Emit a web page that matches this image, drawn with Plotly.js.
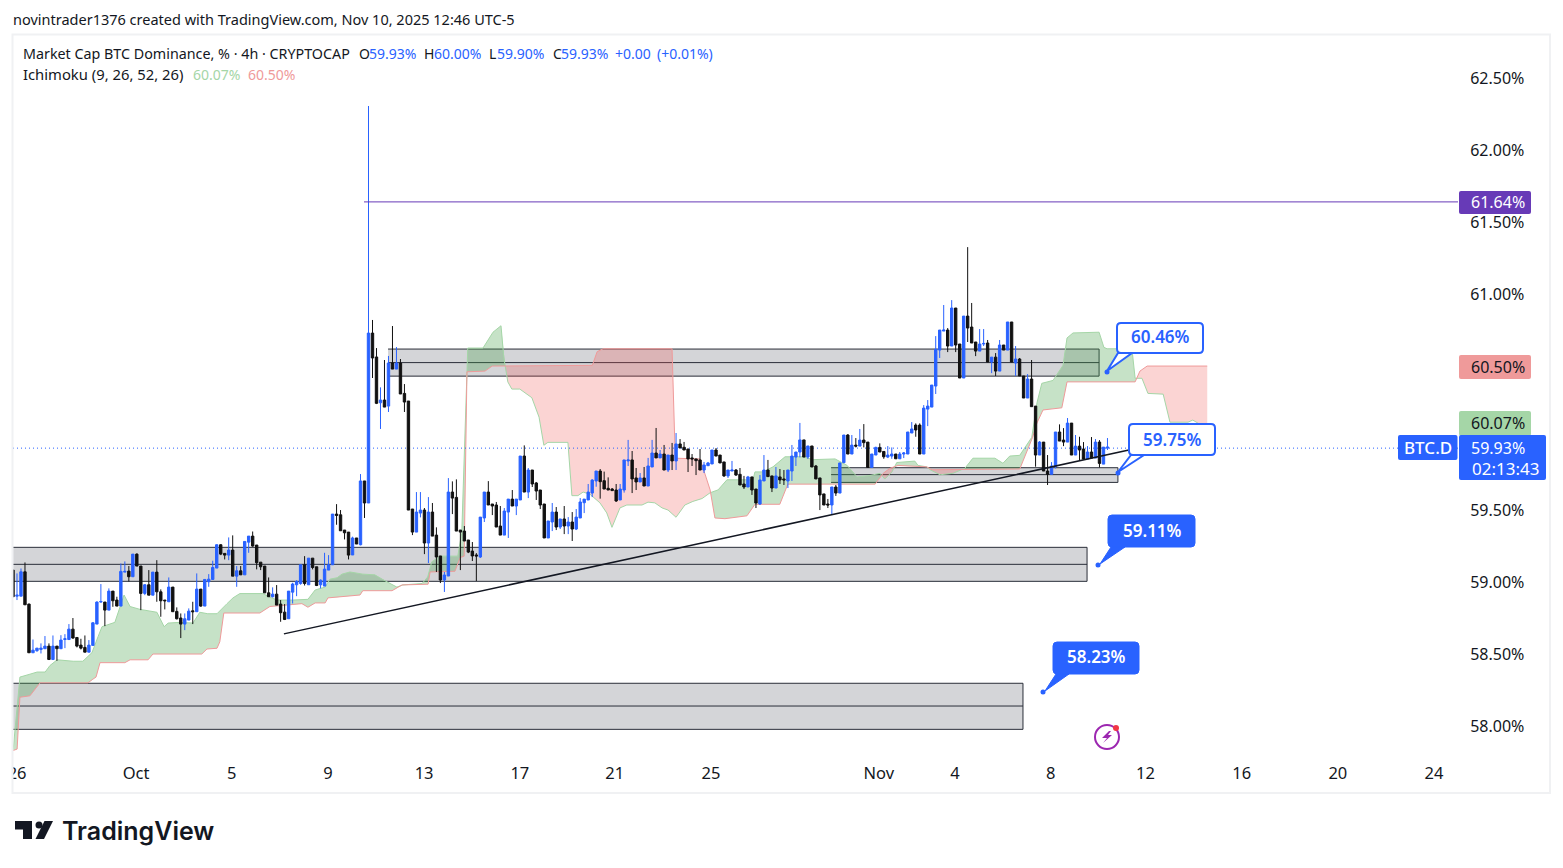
<!DOCTYPE html>
<html><head><meta charset="utf-8">
<script src="https://cdn.plot.ly/plotly-3.0.1.min.js"></script>
<style>html,body{margin:0;padding:0;background:#fff;overflow:hidden}#c{width:1563px;height:868px}</style>
</head><body><div id="c"></div>
<script>
// ---- candles: 4h bars, percent dominance
const opens=[59.083,58.902,58.902,59.071,58.847,58.509,58.523,58.532,58.537,58.555,
58.462,58.555,58.537,58.601,58.601,58.673,58.615,58.562,58.546,58.513,
58.560,58.708,58.861,58.861,58.805,58.937,58.875,58.833,59.069,59.076,
59.037,59.194,59.111,58.921,58.981,58.909,59.069,58.932,58.875,58.863,
58.965,58.796,58.750,58.708,58.736,58.800,58.794,58.951,58.833,59.002,
59.018,59.097,59.259,59.199,59.187,59.222,59.041,59.078,59.050,59.277,
59.319,59.257,59.138,59.111,58.925,58.898,58.916,58.847,58.791,58.745,
58.930,58.981,58.990,59.120,58.981,59.166,59.106,58.981,58.972,59.083,
59.120,59.472,59.467,59.361,59.347,
59.188,59.306,59.259,59.702,59.549,60.729,60.563,60.245,60.264,60.222,
60.521,60.479,60.521,60.310,60.257,59.507,59.347,59.479,59.500,59.271,
59.486,59.326,59.181,59.014,59.042,59.625,59.588,59.361,59.354,59.292,
59.215,59.188,59.174,59.445,59.625,59.542,59.535,59.389,59.326,59.486,
59.576,59.528,59.570,59.875,59.625,59.778,59.688,59.639,59.542,59.306,
59.417,59.486,59.382,59.438,59.389,59.417,59.368,59.445,59.551,59.570,
59.618,
59.702,59.771,59.704,59.651,59.646,59.639,59.570,59.639,59.841,59.848,
59.723,59.695,59.723,59.667,59.799,59.896,59.862,59.889,59.778,59.882,
59.841,59.959,59.936,59.924,59.862,59.855,59.848,59.778,59.808,59.820,
59.917,59.882,59.834,59.737,59.771,59.778,59.748,59.681,59.660,59.730,
59.646,59.542,59.702,59.778,59.737,59.653,59.730,59.716,59.702,59.771,
59.868,59.903,59.987,59.868,59.945,59.806,59.723,59.612,59.542,59.535,
59.660,59.618,
59.829,60.021,59.889,59.951,59.944,59.986,59.972,59.796,59.882,59.935,
59.907,59.868,59.875,59.889,59.856,59.889,59.889,60.035,60.090,60.090,
59.889,60.201,60.215,60.361,60.611,60.743,60.750,60.639,60.903,60.653,
60.417,60.847,60.771,60.667,60.604,60.653,60.660,60.528,60.562,60.465,
60.646,60.611,60.806,60.521,60.549,60.431,60.278,60.410,60.222,59.882,
59.972,59.771,59.748,59.801,60.042,59.986,59.972,60.104,59.882,59.944,
59.924,59.854,59.903,59.861,59.972,59.819,59.930];
const highs=[59.083,59.060,59.094,59.136,58.850,58.601,58.541,58.574,58.625,58.574,
58.629,58.555,58.631,58.638,58.708,58.750,58.615,58.606,58.629,58.597,
58.722,58.866,58.986,58.861,58.956,58.937,58.898,59.129,59.143,59.111,
59.194,59.199,59.111,58.986,59.083,59.069,59.152,58.949,58.875,59.032,
58.965,58.824,58.782,58.782,58.817,58.863,59.060,58.951,59.018,59.055,
59.148,59.263,59.263,59.199,59.310,59.324,59.111,59.111,59.282,59.319,
59.351,59.257,59.138,59.111,59.032,58.963,58.979,58.875,58.847,58.937,
58.995,59.013,59.120,59.180,59.166,59.166,59.106,59.018,59.203,59.187,
59.472,59.541,59.500,59.361,59.347,
59.315,59.306,59.750,59.702,62.306,60.820,60.625,60.352,60.542,60.570,
60.778,60.632,60.549,60.375,60.257,59.507,59.625,59.625,59.514,59.590,
59.549,59.380,59.181,59.070,59.722,59.699,59.713,59.361,59.389,59.292,
59.278,59.201,59.451,59.625,59.701,59.542,59.556,59.528,59.514,59.576,
59.639,59.576,59.875,59.949,59.792,59.778,59.695,59.639,59.542,59.424,
59.549,59.521,59.438,59.528,59.451,59.486,59.507,59.583,59.576,59.681,
59.715,
59.771,59.785,59.767,59.727,59.653,59.681,59.681,59.848,59.987,59.910,
59.792,59.757,59.799,59.862,59.987,60.070,59.917,59.952,59.882,59.966,
60.035,59.993,59.973,59.924,59.889,59.855,59.924,59.834,59.834,59.917,
59.931,59.882,59.834,59.778,59.841,59.785,59.792,59.737,59.737,59.730,
59.646,59.743,59.882,59.848,59.737,59.799,59.785,59.778,59.778,59.952,
59.903,60.105,59.987,59.945,59.945,59.813,59.723,59.612,59.577,59.660,
59.674,59.827,
60.021,60.028,60.021,60.000,60.063,60.097,59.972,59.889,59.940,59.963,
59.907,59.944,59.935,59.889,59.903,59.903,60.042,60.111,60.102,60.102,
60.229,60.264,60.368,60.708,60.750,60.924,60.764,60.958,60.903,60.653,
60.847,61.326,60.938,60.667,60.757,60.757,60.681,60.562,60.590,60.681,
60.646,60.806,60.806,60.639,60.556,60.431,60.444,60.542,60.222,59.979,
59.972,59.882,59.833,60.042,60.095,60.069,60.139,60.104,60.021,60.009,
59.972,59.944,60.007,59.993,59.986,59.937,60.000];
const lows=[58.898,58.875,58.902,58.842,58.509,58.509,58.516,58.504,58.537,58.462,
58.462,58.453,58.537,58.541,58.597,58.606,58.546,58.532,58.513,58.513,
58.560,58.708,58.856,58.694,58.805,58.828,58.833,58.833,59.069,59.004,
59.037,59.111,58.805,58.909,58.909,58.909,58.863,58.759,58.810,58.863,
58.794,58.740,58.611,58.666,58.736,58.708,58.794,58.828,58.833,58.967,
59.018,59.097,59.187,59.157,59.152,59.041,58.967,59.050,59.050,59.203,
59.245,59.088,59.083,58.925,58.898,58.893,58.840,58.724,58.736,58.745,
58.851,58.902,58.981,58.976,58.981,59.088,58.972,58.956,58.972,59.083,
59.120,59.398,59.356,59.296,59.157,
59.188,59.264,59.255,59.445,59.549,60.417,60.236,60.063,60.215,60.181,
60.479,60.479,60.306,60.181,59.500,59.326,59.347,59.449,59.194,59.132,
59.319,59.070,58.993,58.931,59.042,59.472,59.354,59.083,59.285,59.201,
59.146,59.007,59.167,59.417,59.535,59.465,59.382,59.326,59.326,59.306,
59.528,59.465,59.570,59.625,59.583,59.660,59.570,59.507,59.306,59.306,
59.354,59.361,59.368,59.333,59.333,59.285,59.361,59.445,59.479,59.570,
59.590,
59.662,59.579,59.646,59.639,59.635,59.556,59.570,59.621,59.806,59.618,
59.639,59.695,59.667,59.667,59.799,59.862,59.862,59.778,59.764,59.778,
59.778,59.931,59.917,59.764,59.806,59.743,59.778,59.757,59.806,59.820,
59.875,59.827,59.730,59.723,59.771,59.737,59.674,59.646,59.660,59.605,
59.514,59.535,59.702,59.732,59.625,59.653,59.681,59.674,59.653,59.702,
59.806,59.866,59.868,59.855,59.799,59.716,59.500,59.535,59.514,59.466,
59.598,59.618,
59.829,59.889,59.889,59.935,59.944,59.935,59.796,59.796,59.882,59.903,
59.856,59.861,59.856,59.856,59.856,59.861,59.889,60.035,60.009,59.889,
59.889,60.083,60.215,60.306,60.556,60.743,60.597,60.639,60.597,60.417,
60.417,60.667,60.660,60.569,60.604,60.639,60.528,60.451,60.431,60.465,
60.611,60.611,60.528,60.431,60.431,60.278,60.278,60.218,59.801,59.882,
59.771,59.674,59.748,59.789,59.979,59.944,59.972,59.882,59.882,59.847,
59.854,59.854,59.861,59.861,59.796,59.819,59.917];
const closes=[58.898,58.909,59.071,58.842,58.509,58.527,58.541,58.541,58.555,58.462,
58.555,58.537,58.597,58.606,58.673,58.611,58.555,58.541,58.513,58.562,
58.717,58.861,58.865,58.805,58.937,58.870,58.833,59.074,59.074,59.037,
59.194,59.111,58.921,58.981,58.909,59.069,58.932,58.870,58.870,58.965,
58.794,58.745,58.708,58.745,58.798,58.794,58.951,58.833,59.018,59.020,
59.101,59.259,59.194,59.187,59.222,59.041,59.078,59.050,59.282,59.319,
59.250,59.134,59.106,58.925,58.898,58.916,58.840,58.787,58.740,58.937,
58.986,59.004,59.120,58.990,59.166,59.101,58.976,59.013,59.090,59.120,
59.472,59.463,59.356,59.342,59.187,
59.306,59.264,59.702,59.549,60.729,60.556,60.241,60.264,60.215,60.521,
60.479,60.521,60.306,60.250,59.500,59.347,59.486,59.500,59.271,59.486,
59.319,59.174,59.014,59.049,59.625,59.583,59.354,59.347,59.285,59.208,
59.181,59.181,59.451,59.625,59.535,59.528,59.382,59.326,59.493,59.576,
59.528,59.576,59.875,59.625,59.778,59.681,59.632,59.535,59.306,59.424,
59.486,59.382,59.438,59.389,59.417,59.368,59.451,59.556,59.576,59.625,
59.708,
59.771,59.697,59.646,59.639,59.635,59.563,59.646,59.848,59.848,59.716,
59.695,59.723,59.667,59.806,59.896,59.862,59.889,59.778,59.882,59.841,
59.959,59.931,59.917,59.855,59.855,59.843,59.778,59.813,59.827,59.917,
59.875,59.827,59.737,59.778,59.778,59.743,59.674,59.660,59.730,59.639,
59.549,59.709,59.778,59.732,59.653,59.737,59.709,59.709,59.778,59.875,
59.903,59.987,59.868,59.945,59.799,59.716,59.605,59.535,59.535,59.660,
59.618,59.827,
60.021,59.889,59.951,59.944,59.986,59.968,59.796,59.889,59.935,59.903,
59.870,59.882,59.889,59.856,59.889,59.896,60.042,60.063,60.056,59.889,
60.208,60.222,60.368,60.616,60.750,60.750,60.639,60.903,60.646,60.417,
60.847,60.764,60.660,60.604,60.653,60.657,60.528,60.562,60.465,60.646,
60.611,60.806,60.528,60.549,60.431,60.278,60.410,60.218,59.882,59.972,
59.771,59.748,59.806,60.042,59.979,59.972,60.104,59.882,59.944,59.917,
59.854,59.903,59.861,59.972,59.824,59.937,59.937];
const firstBar=-0.125, barStep=0.99715;

// ---- Ichimoku leading spans (bar number, percent)
const spanAX=[-0.1,1.6,4.1,5.9,7.9,9.1,10.9,14.9,17.3,19.6,21.1,22.1,25.3,26.1,27.6,29.1,31.6,35.8,37.6,38.6,41.6,44.8,46.5,48.5,50.8,53.3,54.8,56.5,62.3,64,65.8,69.8,73.5,75.3,77.8,79,80.8,82,84,87.2,90.2,92,94,95.7,97.2,102,103.4,104.4,106.5,110.9,111.9,113.4,117.2,119.7,121.7,122.4,123.4,124.4,126.4,129.4,131.2,132.4,133.4,138.4,139.4,140.9,142.2,143.9,146.4,148.1,149.4,151.4,153.1,156.9,158.4,160.1,161.9,163.4,165.4,167.6,169.6,171.9,173.9,175.9,178.1,184.6,185.1,187.1,189.6,192.6,197.1,199.6,205.1,208.1,210.6,213.8,216.3,217.5,219.3,220.5,225,225.8,228,228.8,231.3,234.5,237.5,239.5,245,247,248.7,251.2,254.2,255.5,256.7,259.5,262,263,264.5,271,272.2,273,279.2,280,281.7,283.2,287,288.7,293.2,294.4,297.7];
const spanA=[57.83,58.34,58.36,58.375,58.375,58.42,58.46,58.45,58.45,58.51,58.62,58.69,58.72,58.785,58.91,58.83,58.81,58.79,58.69,58.715,58.72,58.715,58.79,58.78,58.78,58.85,58.89,58.92,58.92,58.895,58.875,58.875,58.88,58.945,58.965,59.02,59.03,59.055,59.07,59.055,59.05,59.02,58.99,58.965,58.98,58.99,59.035,59.14,59.18,59.18,59.34,60.625,60.625,60.735,60.78,60.56,60.39,60.34,60.34,60.28,60.145,59.95,59.97,59.97,59.60,59.60,59.625,59.61,59.55,59.48,59.38,59.515,59.535,59.535,59.555,59.55,59.515,59.50,59.45,59.535,59.56,59.58,59.62,59.64,59.71,59.71,59.765,59.765,59.80,59.87,59.87,59.85,59.855,59.81,59.73,59.74,59.755,59.715,59.765,59.83,59.84,59.81,59.80,59.78,59.745,59.755,59.79,59.86,59.86,59.825,59.875,59.88,60.005,60.245,60.38,60.40,60.505,60.695,60.73,60.735,60.63,60.62,60.62,60.415,60.415,60.31,60.305,60.11,60.11,60.125,60.07];
const spanBX=[-0.1,0.9,1.6,4.1,6.6,18.6,19.8,20.6,21.6,27.8,29.1,33.6,34.8,47,48.3,50.8,51.5,52.5,61.5,64,72,73.5,75.3,77.8,78.5,83.5,86.5,87.2,94.5,97,103.5,104,110.2,111.5,112.5,113.2,117.7,119.5,144.5,145.7,147.2,164.4,165.2,171.4,173.9,175.1,177.6,183.1,185.1,191.3,193.3,215.1,217.1,218.8,220.8,228,229.3,251.2,254.4,255.5,257,261.7,263,280,281.2,283,298];
const spanB=[57.83,57.84,58.20,58.21,58.30,58.30,58.325,58.34,58.44,58.44,58.46,58.46,58.50,58.50,58.535,58.54,58.585,58.785,58.785,58.83,58.85,58.825,58.855,58.855,58.89,58.90,58.91,58.94,58.94,58.98,58.985,59.07,59.075,59.17,59.18,60.46,60.465,60.50,60.505,60.60,60.62,60.62,59.86,59.855,59.64,59.445,59.44,59.46,59.54,59.54,59.68,59.68,59.755,59.79,59.81,59.80,59.78,59.785,60.005,60.105,60.195,60.21,60.39,60.39,60.465,60.50,60.50];

// ---- drawings
const zoneStart=[93.5,204.1,-0.2,-0.2];
const zoneEnd=[271.0,275.7,268.0,252.0];
const zoneTop=[60.618,59.794,59.241,58.297];
const zoneMid=[60.524,59.746,59.123,58.139];
const zoneBottom=[60.43,59.692,59.005,57.977];
const trendX=[67.5,279];
const trendY=[58.64,59.92];
const levelX=[87.5,360.6];
const levelY=[61.64,61.64];
const lastPrice=59.93;

// ---- axis labels (60.00% and 60.50% sit under the value tags in the reference)
const yTickVals=[58,58.5,59,59.5,61,61.5,62,62.5];
const yTickText=['58.00%','58.50%','59.00%','59.50%','61.00%','61.50%','62.00%','62.50%'];
const xTickVals=[0.9,30.6,54.5,78.5,102.5,126.4,150.1,174.1,216,235,258.9,282.6,306.6,330.6,354.6];
const xTickText=['26','Oct','5','9','13','17','21','25','Nov','4','8','12','16','20','24'];

const FONT='"Noto Sans",sans-serif';
const BLUE='#2962ff', INK='#131722', GREEN='#a5d6a7', RED='#ef9a9a';
const L=13,R=1458,T=34,B=757;
const X=p=>(p-L)/(R-L), Y=p=>(B-p)/(B-T);
const xRange=[-0.125,360.6], yRange=[57.785,62.806];

// cloud fills between the two spans
function at(xs,ys,x){ if(x<=xs[0])return ys[0]; for(let i=1;i<xs.length;i++){ if(x<=xs[i]){const t=(x-xs[i-1])/(xs[i]-xs[i-1]);return ys[i-1]+t*(ys[i]-ys[i-1]);}} return ys[ys.length-1]; }
const grid=[...new Set(spanAX.concat(spanBX))].sort((a,b)=>a-b);
const segs=[]; let cur=null;
function pushPt(x,a,b){ if(cur){cur.x.push(x);cur.a.push(a);cur.b.push(b);} }
for(let i=0;i<grid.length;i++){
  const x=grid[i],a=at(spanAX,spanA,x),b=at(spanBX,spanB,x),up=a>=b;
  if(!cur){cur={up,x:[],a:[],b:[]};segs.push(cur);}
  else if(cur.up!==up){
    const x0=grid[i-1],a0=at(spanAX,spanA,x0),b0=at(spanBX,spanB,x0);
    const t=(a0-b0)/((a0-b0)-(a-b)),xc=x0+t*(x-x0),yc=a0+t*(a-a0);
    pushPt(xc,yc,yc); cur={up,x:[],a:[],b:[]};segs.push(cur); pushPt(xc,yc,yc);
  }
  pushPt(x,a,b);
}
const traces=[];
segs.forEach(s=>traces.push({type:'scatter',mode:'lines',x:s.x.concat(s.x.slice().reverse()),y:s.a.concat(s.b.slice().reverse()),fill:'toself',fillcolor:s.up?'rgba(67,160,71,0.3)':'rgba(239,83,80,0.25)',line:{width:0},hoverinfo:'skip',showlegend:false}));
traces.push({type:'scatter',mode:'lines',x:spanAX,y:spanA,line:{color:GREEN,width:1},hoverinfo:'skip'});
traces.push({type:'scatter',mode:'lines',x:spanBX,y:spanB,line:{color:RED,width:1},hoverinfo:'skip'});
traces.push({type:'scatter',mode:'lines',x:xRange,y:[lastPrice,lastPrice],line:{color:BLUE,width:1,dash:'1px 3px'},hoverinfo:'skip'});
traces.push({type:'candlestick',xaxis:'x2',yaxis:'y2',x:opens.map((_,i)=>firstBar+barStep*i),open:opens,high:highs,low:lows,close:closes,
  increasing:{line:{color:BLUE,width:1},fillcolor:BLUE},decreasing:{line:{color:'#111',width:1},fillcolor:'#111'},whiskerwidth:0,hoverinfo:'skip'});
traces.push({type:'scatter',mode:'lines',xaxis:'x2',yaxis:'y2',x:trendX,y:trendY,line:{color:'#131722',width:1.5},hoverinfo:'skip'});
traces.push({type:'scatter',mode:'lines',xaxis:'x2',yaxis:'y2',x:levelX,y:levelY,line:{color:'#673ab7',width:1},hoverinfo:'skip'});

// shapes
const shapes=[];
zoneStart.forEach((z,i)=>{
  shapes.push({type:'rect',layer:'below',xref:'x',yref:'y',x0:z,x1:zoneEnd[i],y0:zoneBottom[i],y1:zoneTop[i],fillcolor:'rgba(120,123,134,0.32)',line:{width:0}});
  [zoneTop[i],zoneMid[i],zoneBottom[i]].forEach(v=>shapes.push({type:'line',layer:'below',xref:'x',yref:'y',x0:z,x1:zoneEnd[i],y0:v,y1:v,line:{color:'#2a2e39',width:1}}));
  shapes.push({type:'line',layer:'below',xref:'x',yref:'y',x0:zoneEnd[i],x1:zoneEnd[i],y0:zoneBottom[i],y1:zoneTop[i],line:{color:'#2a2e39',width:1}});
});
const pth=a=>a.map((p,i)=>(typeof p==='string'?p:(i?'L':'M')+X(p[0])+' '+Y(p[1]))).join(' ');
function rr(x0,y0,x1,y1,r,tail){
  const q=(cx,cy,ex,ey)=>'Q'+X(cx)+' '+Y(cy)+' '+X(ex)+' '+Y(ey);
  const l=p=>'L'+X(p[0])+' '+Y(p[1]);
  let d='M'+X(x0+r)+' '+Y(y0)+l([x1-r,y0])+q(x1,y0,x1,y0+r)+l([x1,y1-r])+q(x1,y1,x1-r,y1);
  if(tail) d+=l([tail[2],y1])+l([tail[0],tail[1]])+l([tail[3],y1]);
  d+=l([x0+r,y1])+q(x0,y1,x0,y1-r)+l([x0,y0+r])+q(x0,y0,x0+r,y0)+'Z';
  return d;
}
const P=(d,fill,line,w)=>shapes.push({type:'path',layer:'above',xref:'paper',yref:'paper',path:d,fillcolor:fill||'rgba(0,0,0,0)',line:{color:line||'rgba(0,0,0,0)',width:w||0}});
const dot=(cx,cy,r,fill,line,w)=>shapes.push({type:'circle',layer:'above',xref:'paper',yref:'paper',x0:X(cx-r),x1:X(cx+r),y0:Y(cy+r),y1:Y(cy-r),fillcolor:fill,line:{color:line||fill,width:w||0}});
// clip of first date label and frame
shapes.push({type:'rect',layer:'above',xref:'paper',yref:'paper',x0:X(0),x1:X(12),y0:Y(792),y1:Y(758),fillcolor:'#fff',line:{width:0}});
shapes.push({type:'rect',layer:'above',xref:'paper',yref:'paper',x0:X(12.5),x1:X(1550),y0:Y(793),y1:Y(34.5),fillcolor:'rgba(0,0,0,0)',line:{color:'#f0f1f3',width:2}});
// price scale tags
P(rr(1459,191,1531,214,2),'#673ab7');
P(rr(1459,355,1531,379,2),RED);
P(rr(1459,411,1531,436,2),GREEN);
P(rr(1459,435,1546,480,2),BLUE);
P(rr(1398,435,1457.5,460,2),BLUE);
// callouts
P(rr(1117,323,1203,353,4,[1107,371,1118,1132]),'#fff',BLUE,2);
P(rr(1129,424,1215,455,4,[1118,472,1131,1144]),'#fff',BLUE,2);
P(rr(1108,515,1195,547,4,[1100,564,1111,1125]),BLUE,BLUE,1);
P(rr(1053,642,1139,674,4,[1045,691,1056,1069]),BLUE,BLUE,1);
dot(1107,372,2.5,BLUE); dot(1118,473,2.5,BLUE); dot(1098,565,2.5,BLUE); dot(1043,692,2.5,BLUE);
// flash icon
dot(1107,737,12,'rgba(0,0,0,0)','#9c27b0',2);
dot(1116,728,3,'#f23645');
P(pth([[1109,731],[1102,738],[1107,738],[1103,743],[1112,735],[1108,735],[1111,731]])+' Z','#9c27b0');
// logo
P(pth([[15,821],[32,821],[32,839],[23,839],[23,829.5],[15,829.5]])+' Z','#131722');
dot(39,825,3.5,'#131722');
P(pth([[44.5,821],[53,821],[44,839],[35.5,839]])+' Z','#131722');

// text
const ann=[];
const t=(x,y,text,color,size,anchor,weight)=>ann.push({xref:'paper',yref:'paper',x:X(x),y:Y(y),text,showarrow:false,xanchor:anchor||'left',yanchor:'middle',font:{family:FONT,size:size||14,color:color||INK,weight:weight||400}});
t(11,19,'novintrader1376 created with TradingView.com, Nov 10, 2025 12:46 UTC-5',INK,14.5);
t(21,53,'Market Cap BTC Dominance, % · 4h · CRYPTOCAP',INK,14.3);
[[357,'O',367,'59.93%'],[422,'H',432,'60.00%'],[487,'L',495,'59.90%'],[551,'C',559,'59.93%']].forEach(r=>{t(r[0],53,r[1],INK,14);t(r[2],53,r[3],BLUE,14);});
t(613,53,'+0.00',BLUE,14); t(655,53,'(+0.01%)',BLUE,14);
t(21,74,'Ichimoku (9, 26, 52, 26)',INK,14.8);
t(191,74,'60.07%',GREEN,14); t(246,74,'60.50%',RED,14);
t(1498,202.5,'61.64%','#ffffff',16,'center');
t(1498,367,'60.50%',INK,16,'center');
t(1498,423,'60.07%',INK,16,'center');
t(1498,448,'59.93%','#ffffff',16,'center');
t(1505,468,'02:13:43','#ffffff',17,'center');
t(1428,447.5,'BTC.D','#ffffff',17,'center',500);
t(1160,337,'60.46%',BLUE,17,'center',600);
t(1172,439,'59.75%',BLUE,17,'center',600);
t(1152,530.5,'59.11%','#ffffff',17,'center',600);
t(1096,656.5,'58.23%','#ffffff',17,'center',600);
ann.push({xref:'paper',yref:'paper',x:X(60),y:Y(830.5),text:'TradingView',showarrow:false,xanchor:'left',yanchor:'middle',font:{family:'Inter,"Noto Sans",sans-serif',size:25,color:'#131722',weight:600}});

const axisBase={showgrid:false,zeroline:false,showline:false};
const layout={width:1563,height:868,margin:{l:L,r:1563-R,t:T,b:868-B,pad:0},paper_bgcolor:'#fff',plot_bgcolor:'#fff',showlegend:false,boxmode:'overlay',boxgroupgap:0.15,
  xaxis:{...axisBase,range:xRange,tickmode:'array',tickvals:xTickVals,ticktext:xTickText,ticks:'outside',ticklen:1,tickcolor:'rgba(0,0,0,0)',tickangle:0,tickfont:{family:FONT,size:16.5,color:INK},rangeslider:{visible:false}},
  yaxis:{...axisBase,range:yRange,side:'right',tickmode:'array',tickvals:yTickVals,ticktext:yTickText,ticks:'outside',ticklen:8,tickcolor:'rgba(0,0,0,0)',tickfont:{family:FONT,size:16,color:INK}},
  xaxis2:{...axisBase,range:xRange,overlaying:'x',anchor:'y2',visible:false,rangeslider:{visible:false}},
  yaxis2:{...axisBase,range:yRange,overlaying:'y',anchor:'x2',visible:false},
  shapes,annotations:ann,font:{family:FONT}};
Plotly.newPlot('c',traces,layout,{displayModeBar:false,staticPlot:true});
</script></body></html>
